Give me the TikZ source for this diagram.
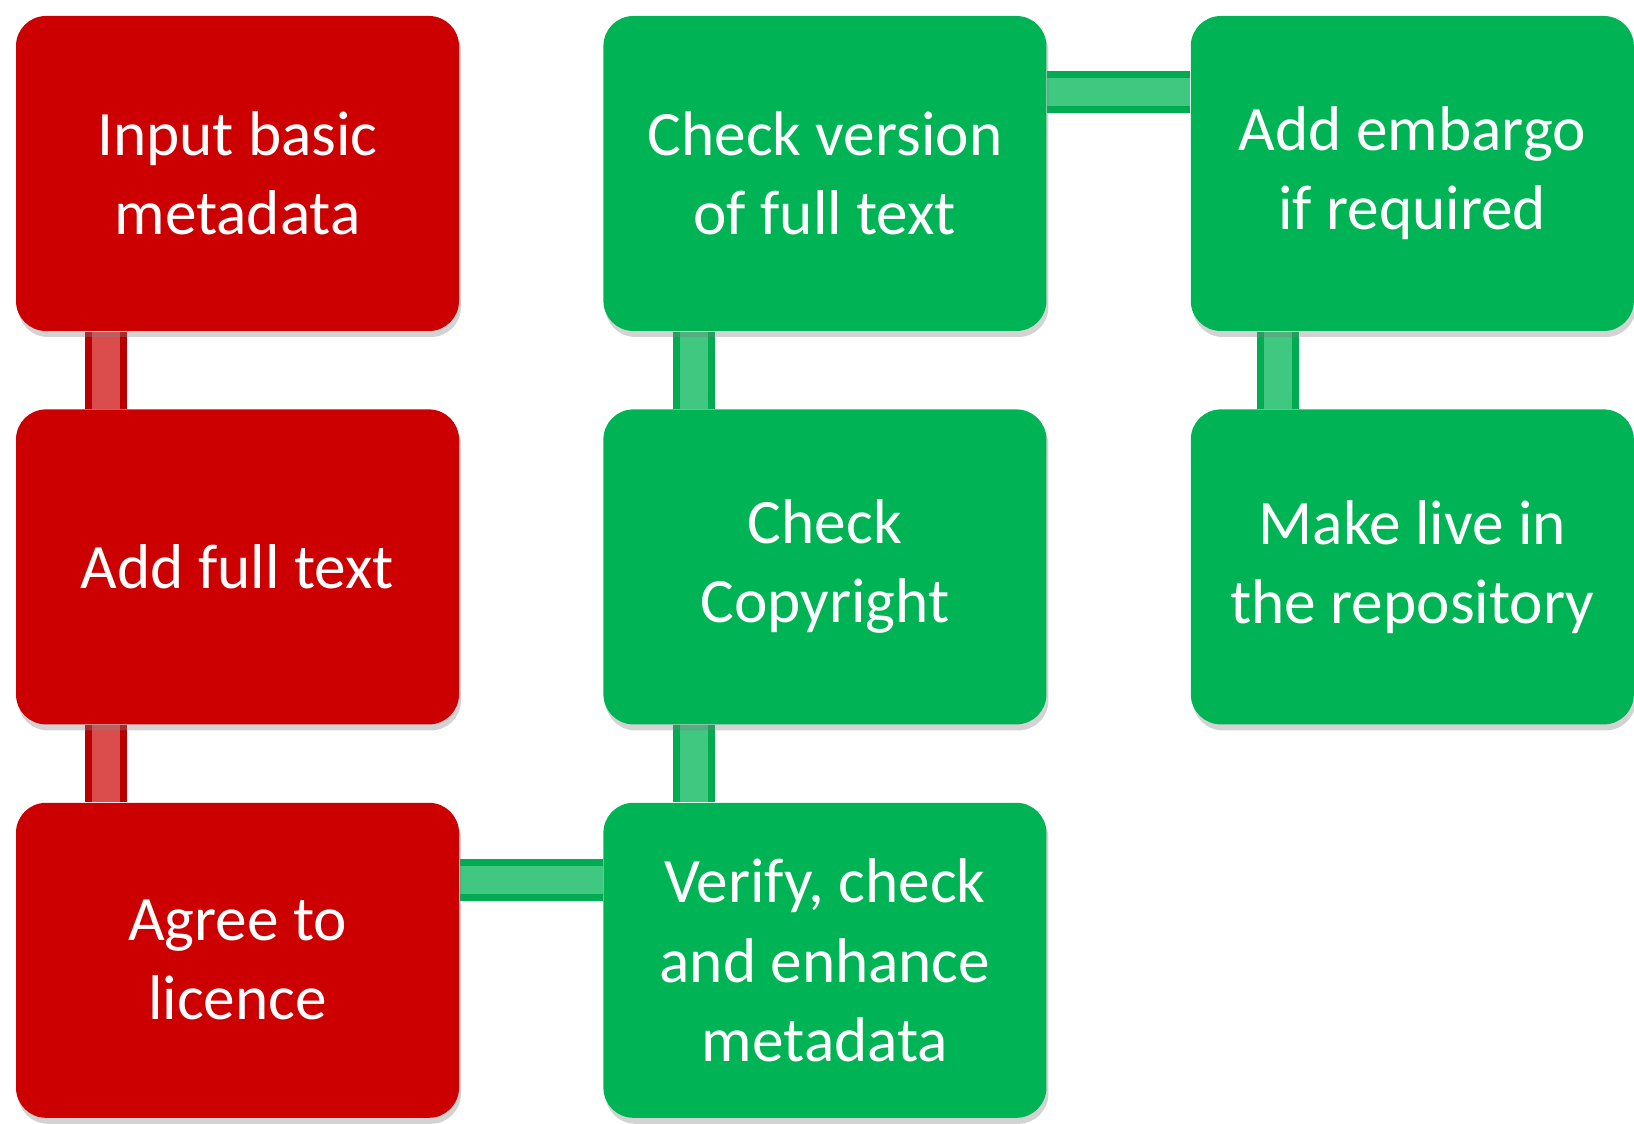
\documentclass[tikz,border=0pt]{standalone}
\usepackage{fontspec}
\setmainfont{Carlito}
\usetikzlibrary{positioning,shadows,backgrounds}
\definecolor{stepred}{RGB}{204,0,0}
\definecolor{stepgreen}{RGB}{0,180,85}
\tikzset{
  stage/.style={rectangle,rounded corners=0.3cm,minimum width=4.43cm,minimum height=3.15cm,
    text=white,align=center,font=\fontsize{18}{22.5}\selectfont,
    drop shadow={shadow xshift=0.02cm,shadow yshift=-0.06cm,opacity=0.35}},
  redstage/.style={stage,fill=stepred},
  greenstage/.style={stage,fill=stepgreen},
  bar/.style={line width=0.07cm,double distance=0.28cm},
  redbar/.style={bar,draw=stepred!90!black,double=stepred!70!white},
  greenbar/.style={bar,draw=stepgreen!95!black,double=stepgreen!75!white}
}

\begin{document}
\begin{tikzpicture}[node distance=0.77cm and 1.43cm]
  \useasboundingbox (0,0) rectangle (16.34,-11.24);
  % deposit steps
  \node[redstage] (input) at (2.375,-1.735) {Input basic\\metadata};
  \node[redstage,below=of input] (fulltext) {Add full text};
  \node[redstage,below=of fulltext] (licence) {Agree to\\licence};
  % checks
  \node[greenstage,right=of input] (version) {Check version\\of full text};
  \node[greenstage,below=of version] (copyright) {Check\\Copyright};
  \node[greenstage,below=of copyright] (verify) {Verify, check\\and enhance\\metadata};
  \node[greenstage,right=of version] (embargo) {Add embargo\\if required};
  \node[greenstage,below=of embargo] (live) {Make live in\\the repository};
  % links
  \begin{scope}[on background layer]
    \draw[redbar] ([xshift=0.91cm]input.south west) -- ([xshift=0.91cm]fulltext.north west);
    \draw[redbar] ([xshift=0.91cm]fulltext.south west) -- ([xshift=0.91cm]licence.north west);
    \draw[greenbar] ([yshift=-0.78cm]licence.north east) -- ([yshift=-0.78cm]verify.north west);
    \draw[greenbar] ([xshift=0.91cm]verify.north west) -- ([xshift=0.91cm]copyright.south west);
    \draw[greenbar] ([xshift=0.91cm]copyright.north west) -- ([xshift=0.91cm]version.south west);
    \draw[greenbar] ([yshift=-0.77cm]version.north east) -- ([yshift=-0.77cm]embargo.north west);
    \draw[greenbar] ([xshift=0.88cm]embargo.south west) -- ([xshift=0.88cm]live.north west);
  \end{scope}
\end{tikzpicture}
\end{document}
